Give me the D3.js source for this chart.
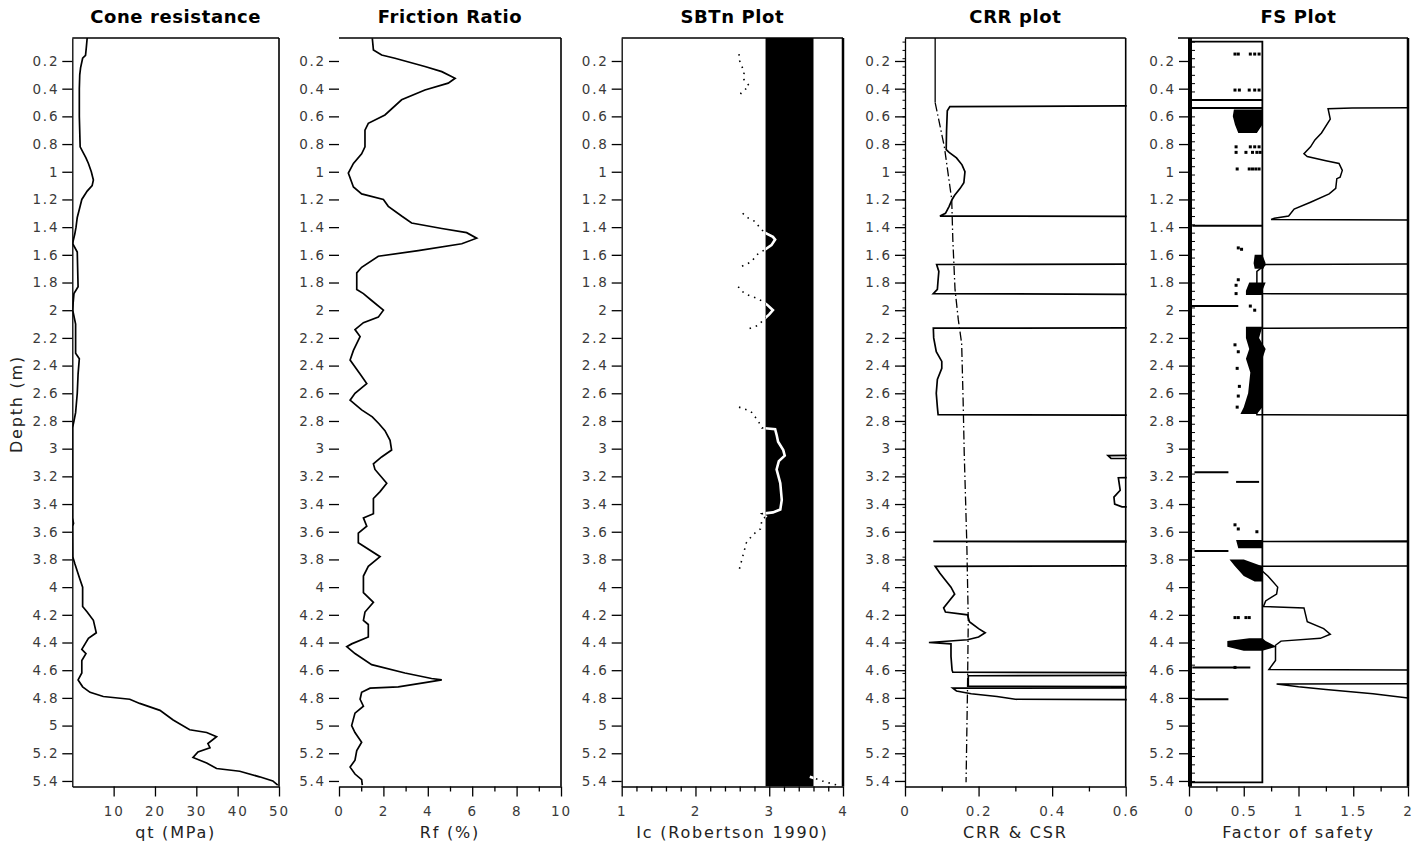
<!DOCTYPE html>
<html><head><meta charset="utf-8">
<script src="https://cdn.jsdelivr.net/npm/d3@7"></script>
<style>
body{margin:0;background:#fff;}
svg{display:block;font-family:"DejaVu Sans",sans-serif;}
</style></head><body>
<svg id="c" width="1424" height="848"></svg>
<script>
// ---------- data ----------
const depthDomain = [0.034, 5.44];
const depthTicks = [0.2,0.4,0.6,0.8,1,1.2,1.4,1.6,1.8,2,2.2,2.4,2.6,2.8,3,3.2,3.4,3.6,3.8,4,4.2,4.4,4.6,4.8,5,5.2,5.4];

const titles = ["Cone resistance","Friction Ratio","SBTn Plot","CRR plot","FS Plot"];
const xLabels = ["qt (MPa)","Rf (%)","Ic (Robertson 1990)","CRR & CSR","Factor of safety"];

const qtTicks = [10,20,30,40,50];
const rfTicks = [0,2,4,6,8,10];
const rfMinor = [1,3,5,7,9];
const icTicks = [1,2,3,4];
const icMinor = [1.2,1.4,1.6,1.8,2.2,2.4,2.6,2.8,3.2,3.4,3.6,3.8];
const crrTicks = [0,0.2,0.4,0.6];
const crrMinor = [0.1,0.3,0.5];
const fsTicks = [0,0.5,1,1.5,2];
const fsMinor = [0.25,0.75,1.25,1.75];

// [depth, qt MPa]
const qtProfile = [[0.034,3.6],[0.1,3.4],[0.16,3.2],[0.18,2.5],[0.25,2.0],[0.3,1.8],[0.4,1.7],[0.6,1.7],[0.82,1.9],[0.86,2.6],[0.9,3.3],[0.94,3.9],[1.0,4.6],[1.06,5.1],[1.1,4.8],[1.14,3.6],[1.2,2.3],[1.26,1.8],[1.33,1.2],[1.4,0.9],[1.45,0.6],[1.5,0.2],[1.52,0.1],[1.58,1.2],[1.83,1.4],[1.88,0.4],[1.95,0.2],[2.0,0.1],[2.1,0.8],[2.31,0.8],[2.35,1.7],[2.46,1.4],[2.6,1.2],[2.74,0.8],[2.8,0.4],[2.85,0.05],[3.5,0.05],[3.54,0.3],[3.56,0.05],[3.78,0.1],[3.83,0.6],[3.93,1.7],[4.0,2.5],[4.14,2.5],[4.18,3.6],[4.24,5.1],[4.33,5.8],[4.37,3.9],[4.45,2.3],[4.48,3.3],[4.53,2.3],[4.62,2.3],[4.67,1.4],[4.72,2.5],[4.76,4.3],[4.79,7.5],[4.81,13.9],[4.84,16.3],[4.89,21.2],[4.96,24.4],[5.03,28.4],[5.05,32.5],[5.08,34.9],[5.13,32.8],[5.16,33.3],[5.19,30.4],[5.23,29.2],[5.27,32.5],[5.31,34.9],[5.33,40.5],[5.37,45.3],[5.40,48.5],[5.43,49.7]];

// [depth, Rf %]
const rfProfile = [[0.036,1.5],[0.12,1.55],[0.157,1.92],[0.18,2.52],[0.24,3.87],[0.277,4.63],[0.325,5.23],[0.36,4.92],[0.41,3.87],[0.48,2.82],[0.59,2.07],[0.65,1.32],[0.70,1.17],[0.82,1.17],[0.87,1.02],[0.94,0.65],[1.01,0.42],[1.11,0.65],[1.16,1.02],[1.20,2.0],[1.25,2.22],[1.32,2.82],[1.37,3.27],[1.41,4.63],[1.44,5.75],[1.48,6.2],[1.52,5.53],[1.57,3.57],[1.61,1.77],[1.69,1.02],[1.73,0.8],[1.85,0.8],[1.88,1.1],[1.93,1.47],[2.0,2.0],[2.05,1.77],[2.09,1.1],[2.14,0.72],[2.19,0.95],[2.29,0.65],[2.36,0.5],[2.46,0.95],[2.53,1.25],[2.6,0.72],[2.65,0.5],[2.72,1.02],[2.77,1.5],[2.82,1.8],[2.87,2.07],[2.94,2.3],[3.01,2.37],[3.06,1.92],[3.11,1.55],[3.15,1.62],[3.25,2.15],[3.31,1.85],[3.36,1.55],[3.47,1.55],[3.50,1.1],[3.56,1.25],[3.61,0.87],[3.68,0.87],[3.78,1.85],[3.85,1.32],[3.92,1.1],[4.04,1.1],[4.11,1.55],[4.18,1.17],[4.24,1.1],[4.27,1.32],[4.36,1.32],[4.41,0.57],[4.43,0.35],[4.48,0.72],[4.56,1.47],[4.62,2.97],[4.66,4.17],[4.67,4.63],[4.69,3.87],[4.72,2.67],[4.73,1.4],[4.76,1.02],[4.81,0.95],[4.86,1.1],[4.91,0.72],[5.0,0.57],[5.05,0.72],[5.12,1.02],[5.18,0.8],[5.25,0.72],[5.3,0.5],[5.35,0.72],[5.39,1.02],[5.43,1.05]];

// SBTn clay zone bounds (Ic)
const sbtnZone = [2.95, 3.6];
// [depth, Ic]; null = gap
const icProfile = [[0.15,2.59],[0.2,2.6],[0.28,2.66],[0.33,2.65],[0.38,2.73],[0.43,2.62],[0.45,2.6],null,
 [1.3,2.64],[1.33,2.7],[1.36,2.81],[1.41,2.88],[1.44,2.94],[1.47,3.05],[1.49,3.08],[1.53,3.03],[1.56,2.95],[1.6,2.83],[1.65,2.76],[1.69,2.6],null,
 [1.83,2.58],[1.86,2.62],[1.89,2.71],[1.92,2.86],[1.96,2.97],[2.0,3.05],[2.03,3.0],[2.07,2.92],[2.11,2.85],[2.14,2.69],null,
 [2.7,2.59],[2.73,2.75],[2.8,2.85],[2.85,2.9],[2.86,3.08],[2.9,3.1],[2.95,3.12],[3.01,3.19],[3.05,3.21],[3.09,3.13],[3.15,3.1],[3.25,3.15],[3.37,3.17],[3.44,3.15],[3.46,3.05],[3.47,2.9],[3.49,2.95],[3.52,2.9],[3.58,2.88],[3.62,2.78],[3.68,2.69],[3.76,2.65],[3.88,2.59],null,
 [5.37,3.55],[5.4,3.72],[5.42,3.85],[5.43,3.92]];

// [depth, CRR]; 1 = beyond axis (>0.6)
const crrProfile = [[0.034,1],[0.52,1],[0.53,0.122],[0.56,0.115],[0.7,0.113],[0.84,0.112],[0.86,0.12],[0.9,0.14],[0.95,0.155],[1.0,0.163],[1.08,0.16],[1.12,0.15],[1.17,0.135],[1.2,0.128],[1.25,0.12],[1.3,0.11],[1.32,0.095],[1.325,1],[1.665,1],[1.67,0.086],[1.72,0.092],[1.78,0.09],[1.85,0.088],[1.88,0.077],[1.89,1],[2.125,1],[2.13,0.077],[2.2,0.078],[2.3,0.085],[2.37,0.1],[2.42,0.1],[2.5,0.088],[2.6,0.085],[2.7,0.088],[2.755,0.09],[2.76,1],[3.04,1],[3.05,0.552],[3.07,0.56],[3.08,1],[3.2,1],[3.21,0.58],[3.3,0.585],[3.35,0.568],[3.4,0.57],[3.42,0.59],[3.43,1],[3.665,1],[3.67,0.077],[3.675,1],[3.845,1],[3.85,0.082],[3.9,0.095],[3.95,0.11],[4.0,0.125],[4.05,0.135],[4.1,0.12],[4.15,0.105],[4.18,0.11],[4.2,0.17],[4.25,0.175],[4.3,0.2],[4.33,0.218],[4.36,0.2],[4.38,0.17],[4.4,0.065],[4.41,0.125],[4.5,0.125],[4.6,0.128],[4.615,0.13],[4.62,1],[4.635,1],[4.64,0.172],[4.715,0.172],[4.72,1],[4.725,1],[4.73,0.13],[4.75,0.14],[4.77,0.18],[4.79,0.25],[4.81,0.3],[4.815,1],[5.44,1]];

// [depth, CSR]
const csrProfile = [[0.034,0.082],[0.5,0.082],[0.82,0.107],[1.2,0.127],[1.49,0.13],[1.85,0.136],[2.07,0.145],[2.24,0.154],[2.65,0.158],[3.03,0.161],[3.68,0.168],[4.24,0.172],[4.72,0.17],[5.41,0.166]];

// [depth, FS]; 3 = beyond axis (>2)
const fsProfile = [[0.034,3],[0.535,3],[0.54,1.49],[0.545,1.27],[0.62,1.29],[0.72,1.21],[0.77,1.15],[0.82,1.11],[0.87,1.05],[0.89,1.08],[0.92,1.25],[0.94,1.37],[0.99,1.4],[1.04,1.38],[1.05,1.35],[1.12,1.34],[1.16,1.28],[1.22,1.11],[1.27,0.96],[1.32,0.91],[1.335,0.78],[1.345,0.75],[1.35,3],[1.665,3],[1.67,0.7],[1.72,0.62],[1.8,0.62],[1.88,0.6],[1.885,3],[2.125,3],[2.13,0.62],[2.3,0.6],[2.4,0.63],[2.6,0.6],[2.755,0.62],[2.76,3],[3.665,3],[3.67,0.6],[3.675,3],[3.845,3],[3.85,0.62],[3.92,0.72],[4.0,0.81],[4.05,0.8],[4.1,0.7],[4.14,0.68],[4.15,1.05],[4.25,1.08],[4.3,1.23],[4.34,1.29],[4.37,1.2],[4.39,0.84],[4.42,0.79],[4.53,0.79],[4.595,0.73],[4.6,3],[4.695,3],[4.7,0.8],[4.72,1.0],[4.74,1.25],[4.77,1.68],[4.8,2.0],[4.805,3],[5.44,3]];

// FS limit outline [depth, FS]
const fsBox = [[0.06,0],[0.06,0.67],[5.41,0.67],[5.41,0]];
// short horizontal cuts [depth, FSfrom, FSto]
const fsCuts = [[0.482,0,0.67],[0.54,0,0.67],[1.39,0.03,0.67],[1.97,0.02,0.45],[3.17,0.05,0.36],[3.24,0.43,0.64],[3.74,0.05,0.36],[4.58,0.03,0.56],[4.81,0.05,0.36]];
// filled zones [depth, FSlow, FShigh]; null = gap
const fsZones = [[0.55,0.41,0.67],[0.6,0.40,0.67],[0.66,0.42,0.67],[0.72,0.45,0.62],null,
 [1.6,0.6,0.67],[1.66,0.59,0.7],[1.7,0.6,0.68],null,
 [1.8,0.55,0.7],[1.86,0.52,0.67],[1.89,0.52,0.67],null,
 [2.12,0.52,0.67],[2.2,0.52,0.64],[2.28,0.55,0.7],[2.35,0.52,0.67],[2.45,0.56,0.67],[2.6,0.54,0.67],[2.7,0.5,0.67],[2.75,0.47,0.62],null,
 [3.66,0.43,0.67],[3.72,0.45,0.67],null,
 [3.8,0.37,0.5],[3.85,0.42,0.67],[3.92,0.5,0.67],[3.96,0.6,0.67],null,
 [4.37,0.55,0.67],[4.39,0.35,0.7],[4.43,0.35,0.8],[4.46,0.5,0.67]];
// scattered FS points [depth, FS]
const fsPoints = [[0.15,0.42],[0.15,0.45],[0.15,0.56],[0.15,0.6],[0.15,0.64],[0.41,0.42],[0.41,0.46],[0.41,0.55],[0.41,0.6],[0.41,0.64],
 [0.82,0.43],[0.82,0.56],[0.82,0.6],[0.82,0.64],[0.86,0.43],[0.86,0.52],[0.86,0.58],[0.86,0.62],[0.86,0.65],
 [0.98,0.44],[0.98,0.55],[0.98,0.58],[0.98,0.61],[0.98,0.64],[1.55,0.45],[1.56,0.48],[1.78,0.45],[1.82,0.43],[1.88,0.43],[1.97,0.56],[2.0,0.6],
 [2.25,0.42],[2.3,0.45],[2.42,0.44],[2.55,0.46],[2.62,0.45],[2.7,0.44],[3.55,0.42],[3.58,0.45],[3.6,0.62],
 [4.22,0.42],[4.22,0.45],[4.22,0.52],[4.22,0.55],[4.58,0.42]];

// ---------- drawing ----------
const svg = d3.select("#c");
const TOP = 38, BOT = 786.5;
const y = d3.scaleLinear().domain(depthDomain).range([TOP, BOT]);
const defs = svg.append("defs");

const panelSpec = [
  {x0:72.3, x1:279, dom:[0,50], major:qtTicks, minor:[], noYDomain:false},
  {x0:339, x1:561, dom:[0,10], major:rfTicks, minor:rfMinor, noYDomain:true},
  {x0:621.7, x1:843, dom:[1,4], major:icTicks, minor:icMinor, noYDomain:false},
  {x0:905, x1:1125.7, dom:[0,0.6], major:crrTicks, minor:crrMinor, noYDomain:false},
  {x0:1189, x1:1408, dom:[0,2], major:fsTicks, minor:fsMinor, noYDomain:false}
];

function styleAxis(g){
  g.selectAll("path.domain").attr("stroke","#000").attr("stroke-width",1.3);
  g.selectAll(".tick line").attr("stroke","#000").attr("stroke-width",1.3);
  g.selectAll(".tick text").attr("fill","#3a3a3a").style("font-size","13.5px")
   .style("letter-spacing","1.8px").style("font-family","DejaVu Sans");
}

const panels = panelSpec.map((p,i)=>{
  const x = d3.scaleLinear().domain(p.dom).range([p.x0,p.x1]);
  const g = svg.append("g");
  const cid = "clip"+i;
  defs.append("clipPath").attr("id",cid).append("rect")
    .attr("x",p.x0).attr("y",TOP).attr("width",p.x1-p.x0+1).attr("height",BOT-TOP);
  const plot = g.append("g").attr("clip-path",`url(#${cid})`);

  g.append("text").attr("x",(p.x0+p.x1)/2).attr("y",23).attr("text-anchor","middle")
    .style("font-size","18px").style("font-weight","bold").style("letter-spacing","0.6px")
    .text(titles[i]);
  g.append("text").attr("x",(p.x0+p.x1)/2).attr("y",838).attr("text-anchor","middle")
    .style("font-size","16px").style("letter-spacing","1.8px").attr("fill","#222")
    .text(xLabels[i]);

  const gx = g.append("g").attr("transform",`translate(0,${BOT})`)
    .call(d3.axisBottom(x).tickValues(p.major).tickSize(10).tickSizeOuter(0).tickPadding(10).tickFormat(d=>String(d)));
  styleAxis(gx);
  if (p.minor.length){
    const gm = g.append("g").attr("transform",`translate(0,${BOT})`)
      .call(d3.axisBottom(x).tickValues(p.minor).tickSize(5).tickFormat(""));
    gm.select("path.domain").remove();
    styleAxis(gm);
  }
  const gy = g.append("g").attr("transform",`translate(${p.x0},0)`)
    .call(d3.axisLeft(y).tickValues(depthTicks).tickSize(10).tickSizeOuter(0).tickPadding(3).tickFormat(d=>String(d)));
  styleAxis(gy);
  if (p.noYDomain) gy.select("path.domain").remove();

  return {x, g, plot, p};
});

// frames
panels.forEach(({g,p},i)=>{
  g.append("line").attr("x1",i===4 ? p.x0-11 : p.x0).attr("x2",p.x1).attr("y1",TOP).attr("y2",TOP)
    .attr("stroke","#000").attr("stroke-width",1.5);
  g.append("line").attr("x1",p.x1).attr("x2",p.x1).attr("y1",TOP).attr("y2",BOT)
    .attr("stroke","#000").attr("stroke-width", (i===2||i===4) ? 2.5 : 1.6);
});

svg.append("text").attr("transform","translate(22,404) rotate(-90)").attr("text-anchor","middle")
  .style("font-size","16px").style("letter-spacing","1.8px").attr("fill","#222").text("Depth (m)");

const lineOf = x => d3.line().defined(d=>d).x(d=>x(d[1])).y(d=>y(d[0]));

// Panel 1: qt
{
  const {x, plot} = panels[0];
  plot.append("path").datum(qtProfile).attr("d",lineOf(x))
    .attr("fill","none").attr("stroke","#000").attr("stroke-width",1.7);
}
// Panel 2: Rf
{
  const {x, plot} = panels[1];
  plot.append("path").datum(rfProfile).attr("d",lineOf(x))
    .attr("fill","none").attr("stroke","#000").attr("stroke-width",1.7);
}
// Panel 3: SBTn
{
  const {x, plot} = panels[2];
  plot.append("path").datum(icProfile).attr("d",lineOf(x))
    .attr("fill","none").attr("stroke","#000").attr("stroke-width",1.6).attr("stroke-dasharray","1.5,5");
  plot.append("rect").attr("x",x(sbtnZone[0])).attr("width",x(sbtnZone[1])-x(sbtnZone[0]))
    .attr("y",TOP).attr("height",BOT-TOP).attr("fill","#000");
  defs.append("clipPath").attr("id","zoneclip").append("rect")
    .attr("x",x(sbtnZone[0])).attr("width",x(sbtnZone[1])-x(sbtnZone[0])).attr("y",TOP).attr("height",BOT-TOP);
  plot.append("g").attr("clip-path","url(#zoneclip)").append("path").datum(icProfile).attr("d",lineOf(x))
    .attr("fill","none").attr("stroke","#fff").attr("stroke-width",2.6);
}
// Panel 4: CRR & CSR
{
  const {x, plot, g, p} = panels[3];
  plot.append("path").datum(csrProfile.filter(d=>d[0]<=0.5)).attr("d",lineOf(x))
    .attr("fill","none").attr("stroke","#000").attr("stroke-width",1.3);
  plot.append("path").datum(csrProfile.filter(d=>d[0]>=0.5)).attr("d",lineOf(x))
    .attr("fill","none").attr("stroke","#000").attr("stroke-width",1.3).attr("stroke-dasharray","9,3,1.5,3");
  plot.append("path").datum(crrProfile).attr("d",lineOf(x))
    .attr("fill","none").attr("stroke","#000").attr("stroke-width",1.7);
  const mt = d3.range(0.06,5.44,0.06);
  const gm = g.append("g").attr("transform",`translate(${p.x0},0)`)
    .call(d3.axisLeft(y).tickValues(mt).tickSize(2.5).tickFormat(""));
  gm.select("path.domain").remove();
  gm.selectAll(".tick line").attr("stroke","#000").attr("stroke-width",1);
}
// Panel 5: FS
{
  const {x, plot, g, p} = panels[4];
  plot.append("path").datum(fsBox).attr("d",lineOf(x))
    .attr("fill","none").attr("stroke","#000").attr("stroke-width",1.8);
  plot.selectAll("line.cut").data(fsCuts).join("line").attr("class","cut")
    .attr("x1",d=>x(d[1])).attr("x2",d=>x(d[2])).attr("y1",d=>y(d[0])).attr("y2",d=>y(d[0]))
    .attr("stroke","#000").attr("stroke-width",2);
  plot.append("path").datum(fsZones)
    .attr("d",d3.area().defined(d=>d).y(d=>y(d[0])).x0(d=>x(d[1])).x1(d=>x(d[2])))
    .attr("fill","#000");
  plot.selectAll("rect.pt").data(fsPoints).join("rect").attr("class","pt")
    .attr("x",d=>x(d[1])-1.5).attr("y",d=>y(d[0])-1.5).attr("width",3).attr("height",3).attr("fill","#000");
  plot.append("path").datum(fsProfile).attr("d",lineOf(x))
    .attr("fill","none").attr("stroke","#000").attr("stroke-width",1.5);
  g.append("line").attr("x1",p.x0+1).attr("x2",p.x0+1).attr("y1",TOP).attr("y2",BOT)
    .attr("stroke","#000").attr("stroke-width",4);
  const mt = d3.range(0.06,5.44,0.06);
  const gm = g.append("g").attr("transform",`translate(${p.x0+3},0)`)
    .call(d3.axisRight(y).tickValues(mt).tickSize(3).tickFormat(""));
  gm.select("path.domain").remove();
  gm.selectAll(".tick line").attr("stroke","#000").attr("stroke-width",1);
}
</script>
</body></html>
